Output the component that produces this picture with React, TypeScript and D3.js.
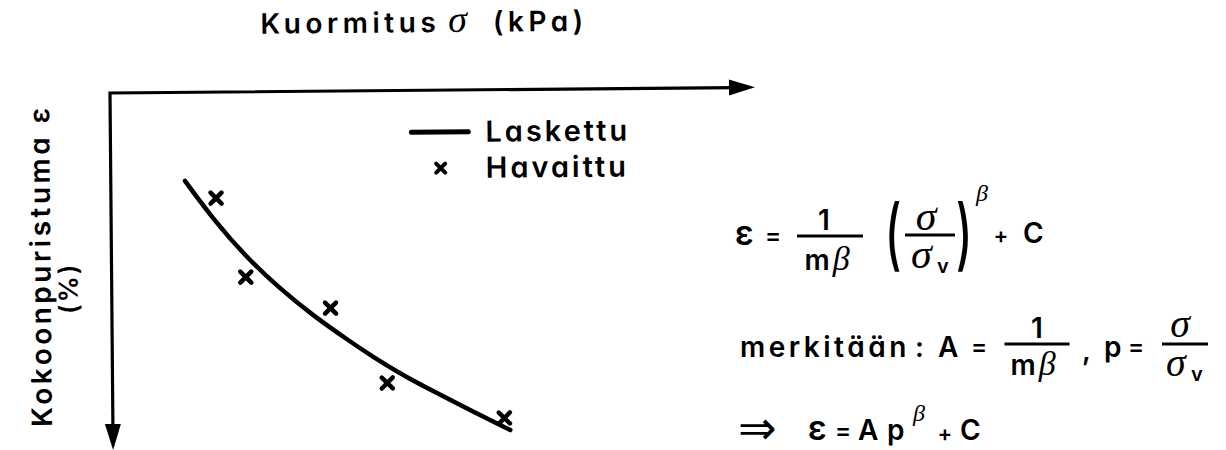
import React from "react";
import * as d3 from "d3";

// Calculated curve ("Laskettu"): load σ (kPa) and compression ε (%)
const calcSigma = [11.5, 15.9, 21.1, 26.2, 31.3, 36.5, 40.5, 45.7, 50.8, 55.9, 61.6];
const calcStrain = [2.48, 3.58, 4.67, 5.54, 6.3, 6.97, 7.47, 8.05, 8.53, 9.02, 9.54];

// Observed points ("Havaittu")
const obsSigma = [16.3, 20.8, 33.9, 42.6, 60.7];
const obsStrain = [2.97, 5.19, 6.08, 8.19, 9.2];

const legendLabels = ["Laskettu", "Havaittu"];
const xTitle = "Kuormitus";
const xUnit = "(kPa)";
const yTitle = "Kokoonpuristuma ε";
const yUnit = "(%)";

const W = 1226;
const H = 450;
const SANS = 'Inter, "DejaVu Sans", sans-serif';
const SERIF = '"Liberation Serif", "DejaVu Serif", serif';

const x = d3.scaleLinear().domain([0, 100]).range([110, 755]);
const y = d3.scaleLinear().domain([0, 10]).range([93, 450]);

const sansStyle: React.CSSProperties = {
  fontFamily: SANS,
  fontWeight: 600,
  fontFeatureSettings: '"cv11" 1',
};

function S({ x, y, size = 28, anchor = "start", ls = 3.5, children }: any) {
  return (
    <text x={x} y={y} fontSize={size} textAnchor={anchor} letterSpacing={ls} style={sansStyle} fill="#000">
      {children}
    </text>
  );
}

function G({ x, y, size = 40, anchor = "start", children }: any) {
  return (
    <text x={x} y={y} fontSize={size} textAnchor={anchor} fontFamily={SERIF} fontStyle="italic" fill="#000">
      {children}
    </text>
  );
}

function Cross({ cx, cy, r = 5.5, sw = 4.5 }: any) {
  return (
    <path
      d={`M${cx - r},${cy - r}L${cx + r},${cy + r}M${cx - r},${cy + r}L${cx + r},${cy - r}`}
      stroke="#000"
      strokeWidth={sw}
      strokeLinecap="round"
    />
  );
}

function Paren({ cx, cy, ch }: any) {
  return (
    <g transform={`translate(${cx},${cy}) scale(1.1,1.95)`}>
      <text x={0} y={11} fontSize={40} textAnchor="middle" fontFamily={SANS} fontWeight={500} fill="#000">
        {ch}
      </text>
    </g>
  );
}

function Frac({ cx, barY, w, children }: any) {
  return (
    <g>
      <line x1={cx - w / 2} x2={cx + w / 2} y1={barY} y2={barY} stroke="#000" strokeWidth={2.8} />
      {children}
    </g>
  );
}

export default function App() {
  const [x0, x1] = x.range();
  const [y0, y1] = y.range();
  const pts: [number, number][] = calcSigma.map((s, i) => [x(s), y(calcStrain[i])]);
  const curve = d3.line().curve(d3.curveBasis)(pts) || "";

  return (
    <svg
      width={W}
      height={H}
      viewBox={`0 0 ${W} ${H}`}
      style={{ position: "absolute", left: 0, top: 0, background: "#fff" }}
    >
      <rect width={W} height={H} fill="#fff" />
      <g transform={`rotate(-0.5 ${x0} ${y0})`}>
        {/* axes with arrowheads */}
        <path d={`M${x1 - 20},${y0}L${x0},${y0}L${x0},${y1 - 20}`} fill="none" stroke="#000" strokeWidth={3.2} />
        <path d={`M${x1},${y0}L${x1 - 26},${y0 - 8}L${x1 - 26},${y0 + 8}Z`} fill="#000" />
        <path d={`M${x0},${y1}L${x0 - 8},${y1 - 26}L${x0 + 8},${y1 - 26}Z`} fill="#000" />

        {/* axis titles */}
        <text x={261} y={35} fontSize={28} letterSpacing={4.5} style={sansStyle}>
          {xTitle}
          <tspan dx={8} fontFamily={SERIF} fontStyle="italic" fontWeight={400} fontSize={38} letterSpacing={0}>
            σ
          </tspan>
          <tspan dx={26}>{xUnit}</tspan>
        </text>
        <g transform="translate(49,265) rotate(-90)">
          <S x={0} y={0} anchor="middle">{yTitle}</S>
        </g>
        <g transform="translate(76,288) rotate(-90)">
          <S x={0} y={0} anchor="middle" size={26} ls={2}>{yUnit}</S>
        </g>

        {/* calculated curve */}
        <path d={curve} fill="none" stroke="#000" strokeWidth={4.5} strokeLinecap="round" />

        {/* observed points */}
        {obsSigma.map((s, i) => (
          <Cross key={i} cx={x(s)} cy={y(obsStrain[i])} />
        ))}

        {/* legend */}
        <line x1={411} x2={468} y1={135} y2={135} stroke="#000" strokeWidth={5} strokeLinecap="round" />
        <S x={485} y={145} size={29} ls={3}>{legendLabels[0]}</S>
        <Cross cx={440} cy={171} r={4.5} sw={4} />
        <S x={485} y={181} size={29} ls={3}>{legendLabels[1]}</S>
      </g>

      {/* ε = 1/(mβ) (σ/σv)^β + C */}
      <S x={735} y={245} size={34} ls={0}>ε</S>
      <S x={773} y={244} size={24} anchor="middle" ls={0}>=</S>
      <Frac cx={830} barY={236} w={66}>
        <S x={824} y={230} anchor="middle" ls={0}>1</S>
        <text x={827} y={270} textAnchor="middle" fontSize={28} style={sansStyle}>
          m<tspan fontFamily={SERIF} fontStyle="italic" fontWeight={400} fontSize={34} dx={3}>β</tspan>
        </text>
      </Frac>
      <Paren cx={893} cy={240} ch="(" />
      <Frac cx={930} barY={235} w={50}>
        <G x={926} y={230} size={42} anchor="middle">σ</G>
        <G x={911} y={268} size={42}>σ</G>
        <S x={937} y={273} size={20} ls={0}>v</S>
      </Frac>
      <Paren cx={964} cy={240} ch=")" />
      <G x={976} y={201} size={24}>β</G>
      <S x={1001} y={243} size={22} anchor="middle" ls={0}>+</S>
      <S x={1023} y={243} size={28} ls={0}>C</S>

      {/* merkitään: A = 1/(mβ), p = σ/σv */}
      <S x={740} y={357} size={28} ls={3.5}>merkitään</S>
      <S x={915} y={357} size={28} ls={0}>:</S>
      <S x={938} y={357} size={28} ls={0}>A</S>
      <S x={979} y={355} size={24} anchor="middle" ls={0}>=</S>
      <Frac cx={1037} barY={344} w={65}>
        <S x={1037} y={338} anchor="middle" ls={0}>1</S>
        <text x={1033} y={375} textAnchor="middle" fontSize={28} style={sansStyle}>
          m<tspan fontFamily={SERIF} fontStyle="italic" fontWeight={400} fontSize={34} dx={3}>β</tspan>
        </text>
      </Frac>
      <S x={1082} y={360} size={28} ls={0}>,</S>
      <S x={1104} y={357} size={28} ls={0}>p</S>
      <S x={1136} y={355} size={24} anchor="middle" ls={0}>=</S>
      <Frac cx={1185} barY={344} w={46}>
        <G x={1180} y={337} size={40} anchor="middle">σ</G>
        <G x={1166} y={376} size={40}>σ</G>
        <S x={1191} y={381} size={20} ls={0}>v</S>
      </Frac>

      {/* ⇒ ε = A p^β + C */}
      <text x={738} y={444} fontSize={46} fontFamily='"DejaVu Sans", sans-serif'>⇒</text>
      <S x={808} y={440} size={34} ls={0}>ε</S>
      <S x={843} y={439} size={24} anchor="middle" ls={0}>=</S>
      <S x={858} y={440} size={28} ls={0}>A</S>
      <S x={887} y={440} size={28} ls={0}>p</S>
      <G x={913} y={421} size={24}>β</G>
      <S x={945} y={441} size={22} anchor="middle" ls={0}>+</S>
      <S x={960} y={440} size={28} ls={0}>C</S>
    </svg>
  );
}
